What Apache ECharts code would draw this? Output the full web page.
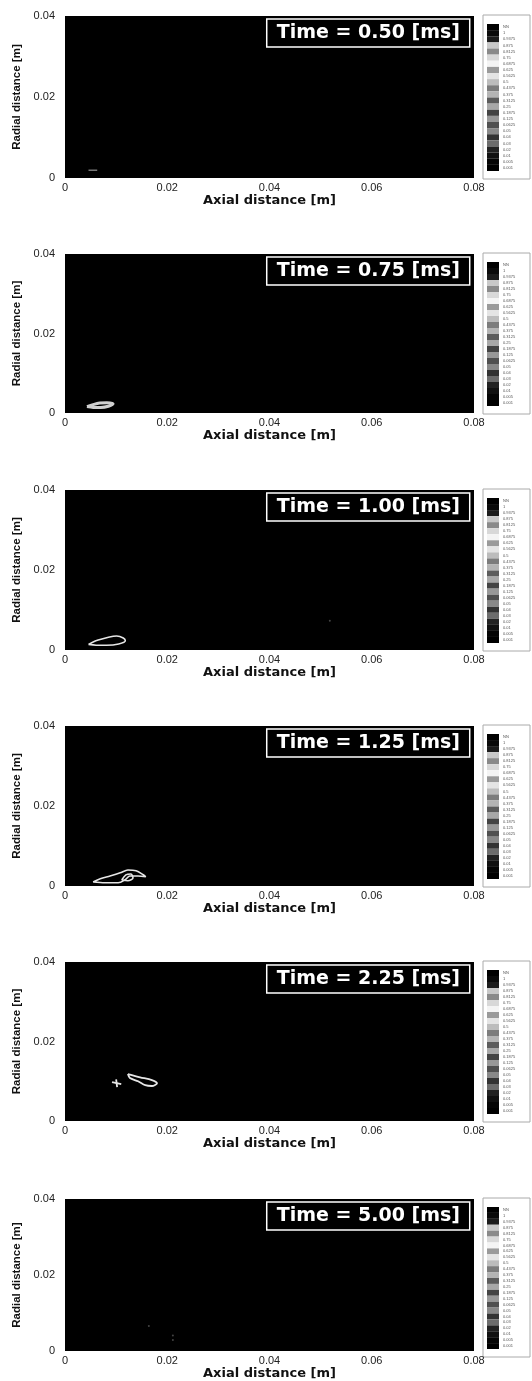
<!DOCTYPE html>
<html><head><meta charset="utf-8">
<script src="https://cdn.jsdelivr.net/npm/echarts@6/dist/echarts.min.js"></script>
<style>html,body{margin:0;padding:0;background:#fff}#c{width:532px;height:1381px}</style>
</head><body><div id="c"></div>
<script>
// ---- data ----
const timeLabels = ['0.50', '0.75', '1.00', '1.25', '2.25', '5.00'];
const xTickValues = [0, 0.02, 0.04, 0.06, 0.08];
const yTickValues = [0, 0.02, 0.04];

// contour traces [axial m, radial m]
const contour050 = [[0.0046, 0.0019], [0.0063, 0.0019]];
const contour075 = [[0.0043, 0.0016], [0.0055, 0.0021], [0.0068, 0.0025], [0.0082, 0.0026], [0.0094, 0.0023],
  [0.0085, 0.0017], [0.0070, 0.0014], [0.0055, 0.0014], [0.0043, 0.0016]];
const contour100 = [[0.0046, 0.0014], [0.0055, 0.0020], [0.0065, 0.0025], [0.0085, 0.0032], [0.0101, 0.0035],
  [0.0114, 0.0030], [0.0118, 0.0023], [0.0105, 0.0015], [0.0081, 0.0012], [0.0061, 0.0012], [0.0046, 0.0014]];
const specks100 = [[0.0518, 0.0073]];
const contour125a = [[0.0055, 0.0010], [0.0069, 0.0018], [0.0088, 0.0025], [0.0108, 0.0033], [0.0123, 0.0040],
  [0.0139, 0.0038], [0.0153, 0.0028], [0.0158, 0.0023], [0.0143, 0.0025], [0.0127, 0.0025], [0.0117, 0.0015],
  [0.0104, 0.0008], [0.0078, 0.0008], [0.0055, 0.0010]];
const contour125b = [[0.0111, 0.0015], [0.0119, 0.0028], [0.0129, 0.0030], [0.0133, 0.0020], [0.0123, 0.0013], [0.0111, 0.0015]];
const contour225a = [[0.0123, 0.0118], [0.0147, 0.0110], [0.0170, 0.0103], [0.0180, 0.0095], [0.0170, 0.0088],
  [0.0157, 0.0090], [0.0143, 0.0100], [0.0127, 0.0108], [0.0123, 0.0118]];
const contour225b = [[0.0092, 0.0098], [0.0110, 0.0093]];
const contour225c = [[0.0100, 0.0105], [0.0102, 0.0085]];
const specks500 = [[0.0164, 0.0066], [0.0211, 0.0041], [0.0211, 0.0029]];

// colour-bar levels (top to bottom) and their grey shades
const levelLabels = ['NN', '1', '0.9375', '0.875', '0.8125', '0.75', '0.6875', '0.625', '0.5625', '0.5',
  '0.4375', '0.375', '0.3125', '0.25', '0.1875', '0.125', '0.0625', '0.05', '0.04', '0.03', '0.02', '0.01', '0.005', '0.001'];
const levelShades = ['#000000', '#0a0a0a', '#1c1c1c', '#c8c8c8', '#8a8a8a', '#d8d8d8', '#f4f4f4', '#9a9a9a',
  '#e4e4e4', '#bcbcbc', '#7c7c7c', '#b4b4b4', '#5c5c5c', '#a8a8a8', '#444444', '#989898', '#505050', '#888888',
  '#333333', '#6c6c6c', '#222222', '#111111', '#050505', '#000000'];

// ---- layout ----
const tops = [16, 254, 490, 726, 962, 1199];
const bottoms = [178, 413, 650, 886, 1121, 1356];
const panelContours = [
  [contour050], [contour075], [contour100], [contour125a, contour125b], [contour225a, contour225b, contour225c], []
];
const panelSpecks = [[], [], specks100, [], [], specks500];
const contourColors = ['#777777', '#d0d0d0', '#e6e6e6', '#e6e6e6', '#e6e6e6', '#e6e6e6'];
const contourWidths = [1.5, 3, 1.6, 1.6, 1.8, 1.6];

const fmt = v => (v === 0 ? '0' : v.toFixed(2));

const grid = [], xAxis = [], yAxis = [], series = [], title = [], graphic = [];
timeLabels.forEach((t, i) => {
  const top = tops[i], h = bottoms[i] - tops[i];
  // main plot
  grid.push({ left: 65, top: top, width: 409, height: h, show: true, backgroundColor: '#000', borderWidth: 0 });
  xAxis.push({
    gridIndex: 2 * i, type: 'value', min: 0, max: 0.08, interval: 0.02,
    axisLine: { show: false }, axisTick: { show: false }, splitLine: { show: false },
    axisLabel: { fontFamily: 'Liberation Sans', fontSize: 11, color: '#222', margin: 4, formatter: fmt, showMaxLabel: true },
    name: 'Axial distance [m]', nameLocation: 'middle', nameGap: 15,
    nameTextStyle: { fontFamily: 'DejaVu Sans', fontWeight: 'bold', fontSize: 13, color: '#111' }
  });
  yAxis.push({
    gridIndex: 2 * i, type: 'value', min: 0, max: 0.04, interval: 0.02,
    axisLine: { show: false }, axisTick: { show: false }, splitLine: { show: false },
    axisLabel: { fontFamily: 'Liberation Sans', fontSize: 11, color: '#222', margin: 10, formatter: fmt },
    name: 'Radial distance [m]', nameLocation: 'middle', nameGap: 39, nameRotate: 90,
    nameTextStyle: { fontFamily: 'Liberation Sans', fontWeight: 'bold', fontSize: 11.5, color: '#111' }
  });
  panelContours[i].forEach(c => series.push({
    type: 'line', xAxisIndex: 2 * i, yAxisIndex: 2 * i, data: c, showSymbol: false, smooth: 0.3, silent: true,
    lineStyle: { color: contourColors[i], width: contourWidths[i] }, z: 3
  }));
  if (panelSpecks[i].length) series.push({
    type: 'scatter', xAxisIndex: 2 * i, yAxisIndex: 2 * i, data: panelSpecks[i], symbolSize: 2,
    itemStyle: { color: '#555' }, silent: true
  });
  // time label
  title.push({
    text: 'Time = ' + t + ' [ms]', right: 62, top: top + 3, padding: [2, 10, 2, 10],
    borderColor: '#fff', borderWidth: 1.5, backgroundColor: '#000',
    textStyle: { color: '#fff', fontFamily: 'DejaVu Sans', fontSize: 19, fontWeight: 'bold', lineHeight: 24 }
  });
  // colour bar
  graphic.push({
    type: 'rect', z: -1, shape: { x: 483, y: top - 1, width: 47, height: h + 2 },
    style: { fill: '#fff', stroke: '#aaa', lineWidth: 1 }
  });
  grid.push({ left: 487, top: top + 8, width: 12, height: h - 15, show: false });
  xAxis.push({ gridIndex: 2 * i + 1, type: 'value', min: 0, max: 1, show: false });
  yAxis.push({
    gridIndex: 2 * i + 1, type: 'category', data: levelLabels, inverse: true, position: 'right',
    axisLine: { show: false }, axisTick: { show: false },
    axisLabel: { fontFamily: 'Liberation Sans', fontSize: 4, color: '#555', margin: 4, align: 'left', interval: 0 }
  });
  series.push({
    type: 'bar', xAxisIndex: 2 * i + 1, yAxisIndex: 2 * i + 1, barCategoryGap: '0%', silent: true,
    data: levelLabels.map((l, k) => ({ value: 1, itemStyle: { color: levelShades[k] } }))
  });
});

const chart = echarts.init(document.getElementById('c'), null, { renderer: 'canvas' });
chart.setOption({ animation: false, backgroundColor: '#fff', grid, xAxis, yAxis, series, title, graphic });
</script></body></html>
